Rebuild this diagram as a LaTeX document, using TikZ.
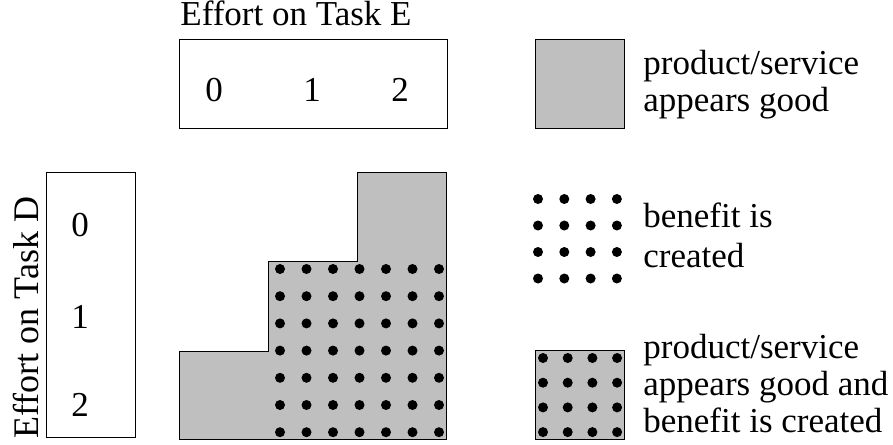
\documentclass[tikz,border=0pt]{standalone}
\usepackage{fontspec}
\setmainfont{Liberation Serif}
\usetikzlibrary{calc,positioning}
\definecolor{shade}{RGB}{191,191,191}
\tikzset{effort box/.style={rectangle,draw,line width=0.5pt,inner sep=0pt,anchor=north west},
	effort digit/.style={inner sep=0pt,anchor=center},
	legend box/.style={rectangle,draw,line width=0.5pt,fill=shade,inner sep=0pt,minimum size=44.5pt,anchor=north west},
	legend text/.style={anchor=base west,align=left,inner sep=0pt}}

\begin{document}
\begin{tikzpicture}[x=0.5pt,y=-0.5pt,font=\fontsize{17.5}{18.5}\selectfont]
	\useasboundingbox (0,0) rectangle (893,444);
	
	% effort on task E
	\node (boxE)	[effort box, minimum width=134pt, minimum height=44.5pt] at (179,39) {};
	\node (labE)	[anchor=base west, inner sep=0pt] at (180,26) {Effort on Task E};
	\node (e0)	[effort digit] at (214,90) {0};
	\node (e1)	[effort digit] at (312,90) {1};
	\node (e2)	[effort digit] at (400,90) {2};
	
	% effort on task D
	\node (boxD)	[effort box, minimum width=44.5pt, minimum height=132.5pt] at (46,172) {};
	\node (labD)	[rotate=90, anchor=base, inner sep=0pt, font=\fontsize{18}{19}\selectfont] at (38,317.5) {Effort on Task D};
	\node (d0)	[effort digit] at (80,225) {0};
	\node (d1)	[effort digit] at (80,317) {1};
	\node (d2)	[effort digit] at (80,405) {2};
	
	% outcome region
	\filldraw [fill=shade, line width=0.5pt] (179,439) -- (179,351) -- (268,351) -- (268,261) -- (357,261)
		-- (357,172) -- (446,172) -- (446,439) -- cycle;
	\foreach \i in {0,...,6}
		\foreach \j in {0,...,6}
			\fill (280+26.5*\i,269+27.2*\j) circle [radius=2.5pt];
	
	% legend (base = last line)
	\node (good)	[legend box] at (535,39) {};
	\node (goodtxt)	[legend text] at (643,112) {product/service\\appears good};
	
	\coordinate (ben) at (538,199);
	\foreach \i in {0,...,3}
		\foreach \j in {0,...,3}
			\fill ($(ben)+(26.3*\i,26.5*\j)$) circle [radius=2.5pt];
	\node (bentxt)	[legend text, font=\fontsize{17.5}{20}\selectfont] at (643,267) {benefit is\\created};
	
	\node (both)	[legend box] at (535,350) {};
	\foreach \i in {0,...,3}
		\foreach \j in {0,...,3}
			\fill (543+24.7*\i,358+24.7*\j) circle [radius=2.5pt];
	\node (bothtxt)	[legend text] at (643,432) {product/service\\appears good and\\benefit is created};
\end{tikzpicture}
\end{document}
